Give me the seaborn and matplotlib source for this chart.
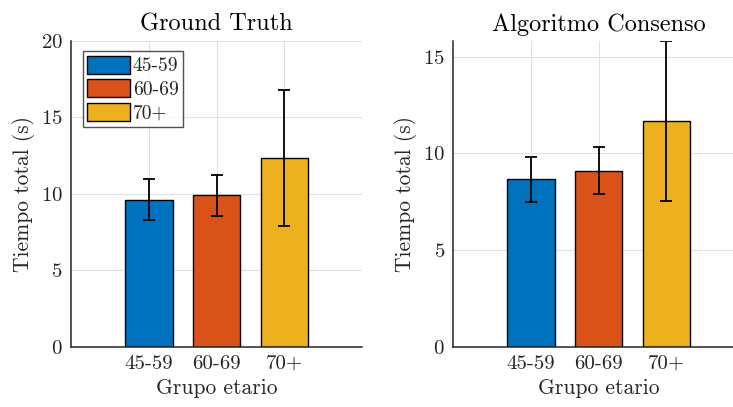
import matplotlib
matplotlib.use("Agg")
import matplotlib.pyplot as plt
import seaborn as sns
import pandas as pd
import numpy as np

# Age groups and timing results (mean ± standard deviation, seconds)
groups = ["45-59", "60-69", "70+"]
gt_mean = [9.6, 9.89, 12.36]
gt_sd = [1.34, 1.34, 4.45]
cons_mean = [8.65, 9.11, 11.69]
cons_sd = [1.16, 1.21, 4.13]

titles = ["Ground Truth", "Algoritmo Consenso"]
xlabel = "Grupo etario"
ylabel = "Tiempo total (s)"
colors = ["#0072BD", "#D95319", "#EDB120"]

sns.set_theme(style="white")
plt.rcParams["font.family"] = ["cmr10", "DejaVu Serif"]
plt.rcParams["mathtext.fontset"] = "cm"
plt.rcParams["axes.formatter.use_mathtext"] = True

text_col = "#262626"

fig = plt.figure(figsize=(7.33, 4.07), dpi=100)
ax_left = fig.add_axes([0.0969, 0.148, 0.397, 0.752])
ax_right = fig.add_axes([0.6184, 0.148, 0.397, 0.752])


def draw_panel(ax, means, sds, title, ylim, yticks, legend=False):
    df = pd.DataFrame({"grupo": groups, "tiempo": means})
    sns.barplot(data=df, x="grupo", y="tiempo", hue="grupo", palette=colors,
                width=0.7, edgecolor="black", linewidth=1.0, legend=False,
                errorbar=None, ax=ax, zorder=2, saturation=1)
    pos = np.arange(len(groups))
    ax.errorbar(pos, means, yerr=sds, fmt="none", ecolor="black",
                elinewidth=1.3, capsize=4.5, capthick=1.3, zorder=3)
    ax.set_xlim(-1.15, len(groups) - 1 + 1.15)
    ax.set_ylim(*ylim)
    ax.set_yticks(yticks)
    ax.set_xticks(pos)
    ax.set_xticklabels(groups)
    ax.set_title(title, fontsize=17.5, color="black", pad=7)
    ax.set_xlabel(xlabel, fontsize=15.5, color=text_col, labelpad=4)
    ax.set_ylabel(ylabel, fontsize=15.5, color=text_col, labelpad=4)
    ax.grid(True, color="#e0e0e0", linewidth=0.8, zorder=0)
    ax.set_axisbelow(True)
    for s in ["top", "right"]:
        ax.spines[s].set_visible(False)
    for s in ["left", "bottom"]:
        ax.spines[s].set_color(text_col)
        ax.spines[s].set_linewidth(1.1)
    ax.tick_params(direction="in", length=4, width=1.0, colors=text_col,
                   labelsize=15, pad=6)
    if legend:
        handles = ax.patches[:len(groups)]
        leg = ax.legend(handles, groups, loc="upper left", fontsize=14,
                        frameon=True, fancybox=False, edgecolor=text_col,
                        handlelength=2.2, handleheight=1.05, handletextpad=0.15,
                        borderpad=0.22, labelspacing=0.2,
                        bbox_to_anchor=(0.04, 0.965), borderaxespad=0)
        leg.get_frame().set_linewidth(1.0)


draw_panel(ax_left, gt_mean, gt_sd, titles[0], (0, 20), [0, 5, 10, 15, 20], legend=True)
top = max(m + s for m, s in zip(cons_mean, cons_sd))
draw_panel(ax_right, cons_mean, cons_sd, titles[1], (0, top), [0, 5, 10, 15])

fig.savefig("out.png", dpi=100, facecolor="white")
